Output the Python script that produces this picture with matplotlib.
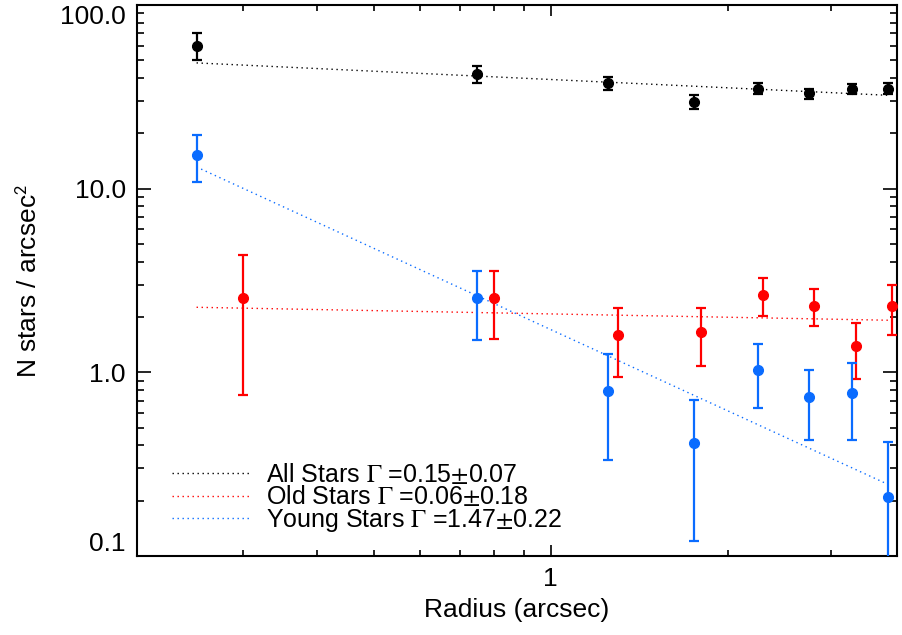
"""Radial surface density profiles of all, old and young stars"""

import numpy as np
import matplotlib
matplotlib.use("Agg")
import matplotlib.pyplot as plt
from matplotlib.lines import Line2D
from matplotlib.ticker import FixedLocator, NullFormatter, FuncFormatter

plt.rcParams['font.family'] = ['Liberation Sans', 'DejaVu Sans']
plt.rcParams['mathtext.fontset'] = 'stix'

BLUE = '#0a6cff'
RED = '#ff0000'

# annulus centres (arcsec); old stars are offset a little for clarity
radius = [0.25, 0.75, 1.25, 1.75, 2.25, 2.75, 3.25, 3.75]
radius_old = [0.30, 0.80, 1.30, 1.80, 2.30, 2.80, 3.30, 3.80]

all_density = [60.0, 42.0, 37.5, 29.7, 35.1, 33.0, 34.8, 35.1]
all_err = [10.0, 4.5, 3.2, 2.6, 2.5, 2.1, 2.2, 2.5]

old_density = [2.55, 2.54, 1.59, 1.66, 2.64, 2.31, 1.39, 2.29]
old_err = [1.80, 1.03, 0.65, 0.58, 0.62, 0.52, 0.47, 0.69]

young_density = [15.3, 2.53, 0.795, 0.414, 1.03, 0.73, 0.775, 0.209]
young_err = [4.4, 1.03, 0.46, 0.293, 0.39, 0.30, 0.345, 0.209]

# power-law fits  N = A * r^-gamma
gamma = [0.15, 0.06, 1.47]
gamma_err = [0.07, 0.18, 0.22]
amplitude = [39.3, 2.08, 1.71]
fit_range = [0.25, 3.75]
names = ['All Stars', 'Old Stars', 'Young Stars']
colors = ['black', RED, BLUE]


def main():
    fig = plt.figure(figsize=(9.02, 6.35), dpi=100)
    ax = fig.add_axes([137 / 902, 79 / 635, 760 / 902, 551 / 635])
    ax.set_xscale('log')
    ax.set_yscale('log')

    dotted = (0, (1, 2.6))
    rfit = np.array(fit_range)
    for a, g, c in zip(amplitude, gamma, colors):
        ax.plot(rfit, a * rfit ** (-g), ls=dotted, lw=1.0, color=c, zorder=2)

    kw = dict(fmt='o', ms=7, elinewidth=1.6, capsize=3.5, capthick=1.6,
              zorder=3)
    ax.errorbar(radius, all_density, yerr=all_err, color='black', **kw)
    ax.errorbar(radius_old, old_density, yerr=old_err, color=RED, **kw)
    ax.errorbar(radius, young_density, yerr=young_err, color=BLUE, **kw)

    ax.set_xlim(0.198, 3.88)
    ax.set_ylim(0.1, 100)

    ax.xaxis.set_major_locator(FixedLocator([1]))
    ax.xaxis.set_major_formatter(FuncFormatter(lambda v, p: '%g' % v))
    ax.xaxis.set_minor_locator(FixedLocator([0.3, 0.4, 0.5, 0.6, 0.7, 0.8,
                                             0.9, 2, 3]))
    ax.xaxis.set_minor_formatter(NullFormatter())
    ax.yaxis.set_major_locator(FixedLocator([0.1, 1, 10, 100]))
    ax.yaxis.set_major_formatter(FuncFormatter(lambda v, p: '%.1f' % v))
    ax.yaxis.set_minor_locator(FixedLocator(
        [m * 10.0 ** e for e in range(-1, 2) for m in range(2, 10)]))
    ax.yaxis.set_minor_formatter(NullFormatter())

    ax.tick_params(which='both', direction='in', top=True, right=True,
                   labelsize=19, width=1.2, colors='black')
    ax.tick_params(axis='x', which='major', length=8, pad=8)
    ax.tick_params(axis='x', which='minor', length=4)
    ax.tick_params(axis='y', which='major', length=10, pad=8)
    ax.tick_params(axis='y', which='minor', length=5)
    for s in ax.spines.values():
        s.set_linewidth(1.5)

    # keep the end labels inside the figure
    fig.canvas.draw()
    ylabels = ax.get_yticklabels()
    ylabels[0].set_va('bottom')
    ylabels[-1].set_va('top')

    ax.set_xlabel('Radius (arcsec)', fontsize=19, labelpad=5)
    ax.set_ylabel(r'N stars / arcsec$^{\mathsf{2}}$', fontsize=19,
                  labelpad=13)

    handles = [Line2D([], [], ls=dotted, lw=1.0, color=c) for c in colors]
    labels = [r'%s $\Gamma$ =%.2f$\pm$%.2f' % (n, g, e)
              for n, g, e in zip(names, gamma, gamma_err)]
    ax.legend(handles, labels, loc='lower left', frameon=False,
              fontsize=18, handlelength=3.1, handletextpad=0.65,
              labelspacing=-0.1, borderpad=0, borderaxespad=0,
              bbox_to_anchor=(0.046, 0.04))

    fig.savefig('out.png', dpi=100)


if __name__ == "__main__":
    main()
